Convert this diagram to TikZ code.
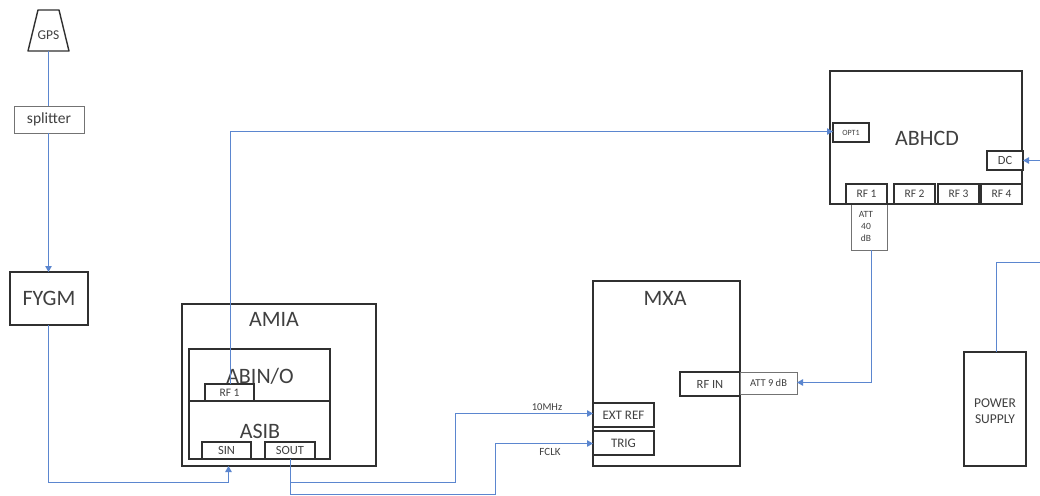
\documentclass[tikz,border=0pt]{standalone}
\usepackage{fontspec}
\setmainfont{Carlito}
\usetikzlibrary{arrows.meta}
\definecolor{linkblue}{HTML}{5B86CF}
\definecolor{edge}{HTML}{303030}
\tikzset{
  every node/.style={inner sep=0pt,outer sep=0pt,text=black!75},
  boxa/.style={draw=edge,line width=1.4pt,fill=white,anchor=north west},
  boxb/.style={draw=black!55,line width=1pt,fill=white,anchor=north west},
  plain/.style={anchor=center},
  link/.style={draw=linkblue,line width=0.9pt},
  linkarr/.style={link,-{Triangle[length=6pt,width=6.5pt]}},
  big/.style={font=\fontsize{22}{24}\selectfont},
  med/.style={font=\fontsize{11.5}{13}\selectfont},
  medb/.style={font=\fontsize{12.5}{14}\selectfont},
  smalltxt/.style={font=\fontsize{10.5}{12}\selectfont}
}
\newcommand{\bx}[7]{\node[#1,#7,minimum width=#4pt,minimum height=#5pt] (#2) at (#3) {#6};}
\begin{document}
\begin{tikzpicture}[x=1pt,y=-1pt]
\useasboundingbox[fill=white] (0,0) rectangle (1040,495);
% outer boxes
\bx{boxa}{fygm}{10,272}{78}{53}{}{}
\node[big,plain] (fygmlabel) at (fygm.center) {FYGM};
\bx{boxa}{amia}{182,304}{194}{162}{}{}
\node[big,plain] (amialabel) at (274,319) {AMIA};
\bx{boxa}{abin}{189,349}{141}{52}{}{}
\node[big,plain] (abinlabel) at (260,376) {ABIN/O};
\bx{boxa}{asib}{189,401}{141}{58}{}{}
\node[big,plain] (asiblabel) at (260,431) {ASIB};
\bx{boxa}{rfa}{205,384}{49}{17}{RF 1}{med}
\bx{boxa}{sin}{202,442}{49}{17}{SIN}{medb}
\bx{boxa}{sout}{265,442}{50}{17}{SOUT}{medb}
\bx{boxa}{mxa}{593,281}{147}{185}{}{}
\node[big,plain] (mxalabel) at (665,298) {MXA};
\bx{boxa}{rfin}{680,372}{60}{24}{RF IN}{medb}
\bx{boxb}{att}{740,372}{57}{22}{ATT 9 dB}{smalltxt}
\bx{boxa}{ext}{593,403}{61}{24}{EXT REF}{font=\fontsize{13}{15}\selectfont}
\bx{boxa}{trig}{593,431}{61}{24}{TRIG}{font=\fontsize{13}{15}\selectfont}
\bx{boxa}{abhcd}{830,71}{192}{133}{}{}
\node[big,plain] (abhcdlabel) at (927,138) {ABHCD};
\bx{boxa}{opt}{833,123}{36}{19}{OPT1}{font=\fontsize{8}{9}\selectfont}
\bx{boxa}{dc}{987,151}{36}{19}{DC}{medb}
\bx{boxb}{attb}{851,204}{36}{46}{}{}
\node[plain,align=center,font=\fontsize{9.5}{12}\selectfont] (attblabel) at (866,226) {ATT\\40\\dB};
\bx{boxa}{rfb}{846,184}{41}{20}{RF 1}{med}
\bx{boxa}{rfc}{894,184}{41}{20}{RF 2}{med}
\bx{boxa}{rfd}{938,184}{41}{20}{RF 3}{med}
\bx{boxa}{rfe}{981,184}{41}{20}{RF 4}{med}
\bx{boxa}{power}{964,352}{62}{114}{}{}
\node[plain,align=center,font=\fontsize{13.5}{16}\selectfont] (powerlabel) at (995,411) {POWER\\SUPPLY};
\bx{boxb}{split}{14,106}{70}{27}{splitter\hspace{6pt}}{font=\fontsize{15.5}{17}\selectfont}
% GPS antenna
\draw[draw=edge,line width=1.4pt,fill=white,line join=round] (38,10) -- (59,10) -- (69,51) -- (28,51) -- cycle;
\node[plain,font=\fontsize{13.5}{15}\selectfont] (gps) at (48.5,35) {GPS};
% free ends
\coordinate (gpsb) at (48.5,51);
\coordinate (sinin) at (228.5,466);
\coordinate (soutb) at (290.5,459);
\coordinate (rfat) at (230.5,384);
\coordinate (attbb) at (871.5,250);
\coordinate (pwrt) at (996.5,352);
\coordinate (edgea) at (1040,160.5);
\coordinate (edgeb) at (1040,262.5);
% connectors
\draw[link] (gpsb) -- (gpsb |- split.north);
\draw[linkarr] (split.south -| gpsb) -- (gpsb |- fygm.north);
\draw[linkarr] (gpsb |- fygm.south) -- (48.5,482.5) -- (228.5,482.5) -- (sinin);
\draw[linkarr] (rfat) -- (230.5,131.5) -- (833,131.5);
\draw[linkarr] (soutb) -- (290.5,482.5) -- (455.5,482.5) -- (455.5,413.5) -- (593,413.5);
\draw[linkarr] (soutb) -- (290.5,494.2) -- (495.5,494.2) -- (495.5,443.5) -- (593,443.5);
\draw[linkarr] (attbb) -- (871.5,382.5) -- (797,382.5);
\draw[linkarr] (edgea) -- (1023,160.5);
\draw[link] (pwrt) -- (996.5,262.5) -- (edgeb);
% labels
\node[smalltxt,plain] (tenmhz) at (547,407) {10MHz};
\node[plain,font=\fontsize{11}{12}\selectfont] (fclk) at (550,452) {FCLK};
\end{tikzpicture}
\end{document}
